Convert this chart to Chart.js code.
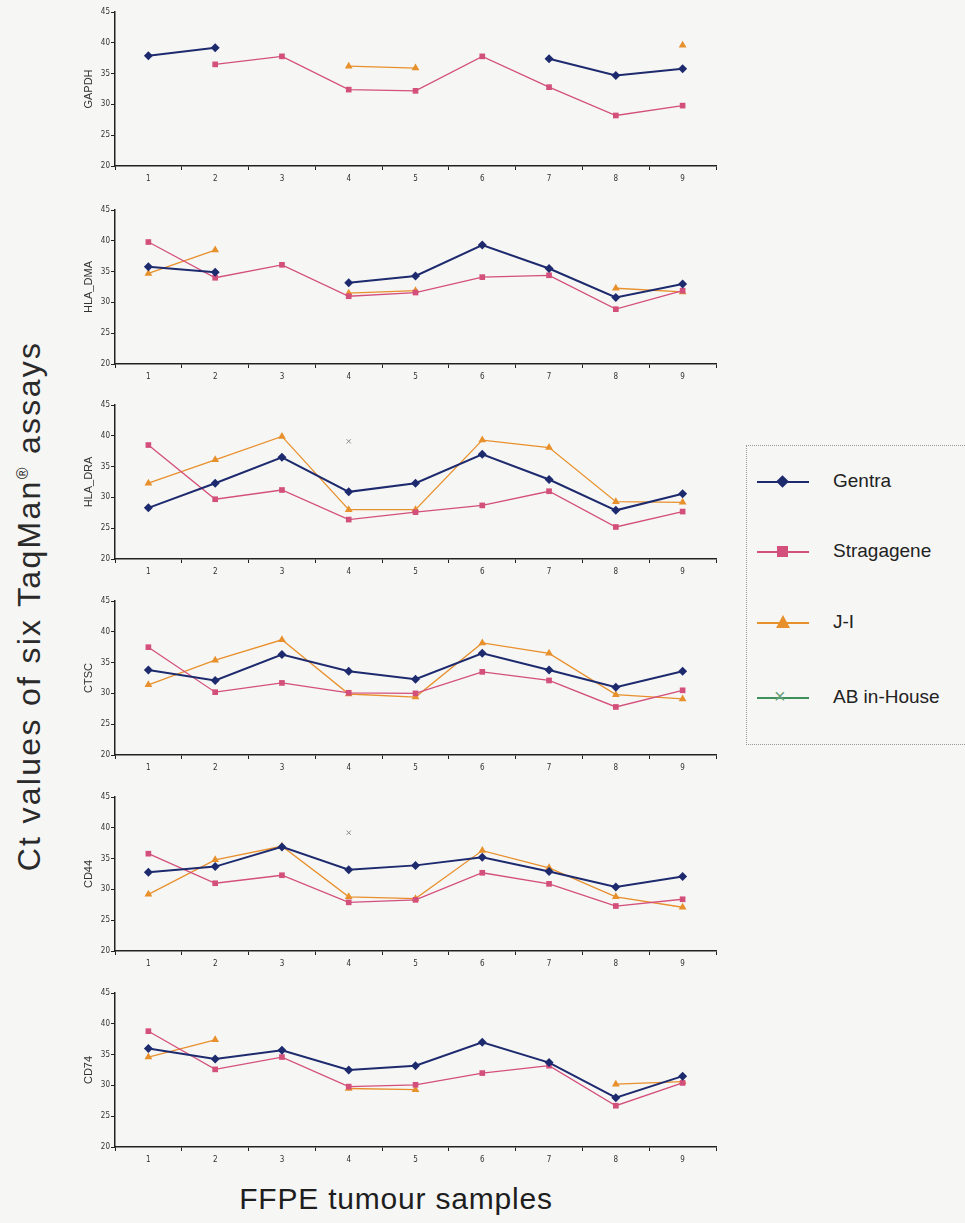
<!DOCTYPE html>
<html lang="en">
<head>
<meta charset="UTF-8">
<title>Ct values of six TaqMan assays</title>
<script src="https://cdn.jsdelivr.net/npm/chart.js"></script>
<style>
    body {
        margin: 0;
        width: 965px;
        height: 1223px;
        background: #f6f6f5;
        font-family: "Liberation Sans", Arial, sans-serif;
        position: relative;
        overflow: hidden;
    }
    canvas.panel {
        position: absolute;
    }
    #ytitle {
        position: absolute;
        left: 29px;
        top: 606px;
        transform: translate(-50%, -50%) rotate(-90deg);
        white-space: nowrap;
        font-size: 32px;
        color: #2a2a2a;
        letter-spacing: 2.3px;
    }
    #ytitle sup { font-size: 16px; }
    #xtitle {
        position: absolute;
        left: 396px;
        top: 1199px;
        transform: translate(-50%, -50%);
        white-space: nowrap;
        font-size: 30px;
        color: #1e1e1e;
        letter-spacing: 0.8px;
    }
    #legend {
        position: absolute;
        left: 746px;
        top: 445px;
        width: 225px;
        height: 300px;
        border: 1px dotted #9a9a9a;
        box-sizing: border-box;
    }
    .item {
        position: absolute;
        left: 10px;
        height: 20px;
        width: 220px;
    }
    .item .ln {
        position: absolute;
        left: 0;
        top: 9px;
        width: 52px;
        height: 2px;
    }
    .item .mk {
        position: absolute;
    }
    .item span {
        position: absolute;
        left: 76px;
        top: -2px;
        font-size: 19px;
        color: #222;
    }
</style>
</head>
<body>

<div id="ytitle">Ct values of six TaqMan<sup>®</sup> assays</div>
<div id="xtitle">FFPE tumour samples</div>

<div id="legend">
    <div class="item" style="top:26px">
        <div class="ln" style="background:#1d2a6e"></div>
        <div class="mk" style="left:21px;top:5px;width:9px;height:9px;background:#1d2a6e;transform:rotate(45deg)"></div>
        <span>Gentra</span>
    </div>
    <div class="item" style="top:96px">
        <div class="ln" style="background:#d34f7c;height:1.5px"></div>
        <div class="mk" style="left:20px;top:4px;width:11px;height:11px;background:#d34f7c"></div>
        <span>Stragagene</span>
    </div>
    <div class="item" style="top:167px">
        <div class="ln" style="background:#e8902c;height:1.5px"></div>
        <div class="mk" style="left:19px;top:2px;width:0;height:0;border-left:7px solid transparent;border-right:7px solid transparent;border-bottom:13px solid #e8902c"></div>
        <span>J-I</span>
    </div>
    <div class="item" style="top:242px">
        <div class="ln" style="background:#3f8f5c;height:1.5px"></div>
        <div class="mk" style="left:17px;top:-2px;font-size:20px;line-height:20px;color:#6aa07c">&times;</div>
        <span>AB in-House</span>
    </div>
</div>

<canvas class="panel" id="p0"></canvas>
<canvas class="panel" id="p1"></canvas>
<canvas class="panel" id="p2"></canvas>
<canvas class="panel" id="p3"></canvas>
<canvas class="panel" id="p4"></canvas>
<canvas class="panel" id="p5"></canvas>

<script>
    // sample numbers on the x axis
    const samples = ['1', '2', '3', '4', '5', '6', '7', '8', '9'];
    const assays = ['GAPDH', 'HLA_DMA', 'HLA_DRA', 'CTSC', 'CD44', 'CD74'];
    const kits = ['Gentra', 'Stragagene', 'J-I', 'AB in-House'];

    // Ct values (null = no value)
    const gapdhGentra  = [37.9, 39.2, null, null, null, null, 37.4, 34.7, 35.8];
    const gapdhStrag   = [null, 36.5, 37.8, 32.4, 32.2, 37.8, 32.8, 28.2, 29.8];
    const gapdhJI      = [null, null, null, 36.2, 35.9, null, null, null, 39.6];
    const gapdhAB      = [null, null, null, null, null, null, null, null, null];

    const dmaGentra    = [35.8, 34.9, null, 33.2, 34.3, 39.3, 35.5, 30.8, 33.0];
    const dmaStrag     = [39.8, 34.0, 36.1, 31.0, 31.6, 34.1, 34.4, 28.9, 31.9];
    const dmaJI        = [34.7, 38.5, null, 31.5, 31.9, null, null, 32.3, 31.7];
    const dmaAB        = [null, null, null, null, null, null, null, null, null];

    const draGentra    = [28.3, 32.3, 36.5, 30.9, 32.3, 37.0, 32.9, 27.9, 30.6];
    const draStrag     = [38.5, 29.7, 31.2, 26.4, 27.6, 28.7, 31.0, 25.2, 27.7];
    const draJI        = [32.3, 36.1, 39.9, 28.0, 28.0, 39.3, 38.1, 29.3, 29.2];
    const draAB        = [null, null, null, 39.1, null, null, null, null, null];

    const ctscGentra   = [33.8, 32.1, 36.3, 33.6, 32.3, 36.5, 33.8, 31.0, 33.6];
    const ctscStrag    = [37.5, 30.2, 31.7, 30.1, 30.0, 33.5, 32.1, 27.8, 30.5];
    const ctscJI       = [31.4, 35.4, 38.7, 29.9, 29.4, 38.2, 36.5, 29.8, 29.1];
    const ctscAB       = [null, null, null, null, null, null, null, null, null];

    const cd44Gentra   = [32.8, 33.7, 36.9, 33.2, 33.9, 35.2, 32.9, 30.4, 32.1];
    const cd44Strag    = [35.8, 31.0, 32.3, 27.9, 28.3, 32.7, 30.9, 27.3, 28.4];
    const cd44JI       = [29.2, 34.8, 37.0, 28.8, 28.5, 36.3, 33.5, 28.8, 27.1];
    const cd44AB       = [null, null, null, 39.2, null, null, null, null, null];

    const cd74Gentra   = [36.0, 34.3, 35.7, 32.5, 33.2, 37.0, 33.7, 28.0, 31.5];
    const cd74Strag    = [38.8, 32.6, 34.6, 29.8, 30.1, 32.0, 33.2, 26.7, 30.4];
    const cd74JI       = [34.6, 37.4, null, 29.5, 29.3, null, null, 30.2, 30.6];
    const cd74AB       = [null, null, null, null, null, null, null, null, null];

    const panelData = [
        [gapdhGentra, gapdhStrag, gapdhJI, gapdhAB],
        [dmaGentra, dmaStrag, dmaJI, dmaAB],
        [draGentra, draStrag, draJI, draAB],
        [ctscGentra, ctscStrag, ctscJI, ctscAB],
        [cd44Gentra, cd44Strag, cd44JI, cd44AB],
        [cd74Gentra, cd74Strag, cd74JI, cd74AB]
    ];

    // look of each kit
    const kitStyle = [
        { color: '#1d2a6e', point: 'rectRot', radius: 4.5, width: 2 },
        { color: '#d34f7c', point: 'rect', radius: 4, width: 1.3 },
        { color: '#e8902c', point: 'triangle', radius: 4.5, width: 1.3 },
        { color: '#8a8a8a', point: 'crossRot', radius: 3, width: 1 }
    ];

    const panelTops = [12, 210, 405, 601, 797, 993];
    const plotH = 154;
    const canvasLeft = 78;
    const plotLeft = 115;
    const plotRight = 716;
    const padTop = 8;
    const padRight = 6;
    const xAxisH = 25;

    const tickFont = { family: '"Liberation Sans Narrow", "DejaVu Sans Condensed", "Liberation Sans", sans-serif', size: 8 };

    assays.forEach((name, i) => {
        const cv = document.getElementById('p' + i);
        const w = plotRight - canvasLeft + padRight;
        const h = padTop + plotH + xAxisH;
        cv.width = w;
        cv.height = h;
        cv.style.left = canvasLeft + 'px';
        cv.style.top = (panelTops[i] - padTop) + 'px';

        const datasets = panelData[i].map((vals, k) => ({
            label: kits[k],
            data: vals,
            borderColor: kitStyle[k].color,
            backgroundColor: kitStyle[k].color,
            borderWidth: kitStyle[k].width,
            pointStyle: kitStyle[k].point,
            pointRadius: kitStyle[k].radius,
            pointBorderWidth: k === 3 ? 1 : 0,
            pointBorderColor: kitStyle[k].color,
            spanGaps: false,
            tension: 0
        }));

        new Chart(cv.getContext('2d'), {
            type: 'line',
            data: { labels: samples, datasets: datasets },
            options: {
                responsive: false,
                animation: false,
                layout: { padding: { top: padTop, right: padRight, left: 0, bottom: 0 } },
                plugins: { legend: { display: false }, tooltip: { enabled: false } },
                scales: {
                    x: {
                        offset: true,
                        grid: { offset: true, drawOnChartArea: false, tickLength: 4, color: '#222' },
                        border: { color: '#222', width: 1.5 },
                        ticks: { font: tickFont, color: '#333', padding: 4, maxRotation: 0 },
                        afterFit(s) { s.height = xAxisH; }
                    },
                    y: {
                        min: 20,
                        max: 45,
                        ticks: { stepSize: 5, font: tickFont, color: '#333', padding: 1 },
                        grid: { drawOnChartArea: false, tickLength: 4, color: '#222' },
                        border: { color: '#222', width: 1.5 },
                        title: {
                            display: true,
                            text: name,
                            color: '#333',
                            font: { family: '"Liberation Sans", Arial, sans-serif', size: 11 },
                            padding: { top: 4, bottom: 0 }
                        },
                        afterFit(s) { s.width = plotLeft - canvasLeft; }
                    }
                }
            }
        });
    });
</script>
</body>
</html>
